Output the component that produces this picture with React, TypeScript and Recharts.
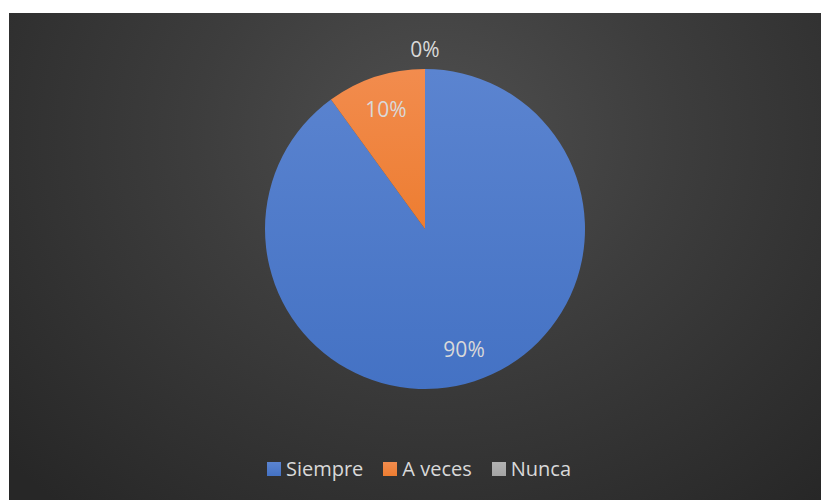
import { PieChart, Pie, Cell, Legend } from 'recharts'

const categories = ['Siempre', 'A veces', 'Nunca']
const percents = [90, 10, 0]
const colors = ['#4472c4', '#ed7d31', '#a5a5a5']
const lightColors = ['#5b84d0', '#f28c4e', '#b2b2b2']

const data = categories.map((name, i) => ({ name, value: percents[i] }))

const RADIAN = Math.PI / 180
const FONT = "'Open Sans', Lato, sans-serif"

// etiquetas dentro del sector, o fuera si el sector está vacío
const renderLabel = (props: any) => {
  const { cx, cy, midAngle, outerRadius, value } = props
  const r = value === 0 ? outerRadius + 20 : outerRadius * 0.79
  const x = cx + r * Math.cos(-midAngle * RADIAN)
  const y = cy + r * Math.sin(-midAngle * RADIAN)
  return (
    <text x={x} y={y} fill="#d9d9d9" fontSize={21} fontFamily={FONT} textAnchor="middle" dominantBaseline="central">
      {value}%
    </text>
  )
}

const renderLegend = () => (
  <div style={{ display: 'flex', justifyContent: 'center', gap: 20, fontFamily: FONT, fontSize: 20, color: '#d9d9d9' }}>
    {categories.map((name, i) => (
      <div key={name} style={{ display: 'flex', alignItems: 'center', gap: 5 }}>
        <span style={{ width: 14, height: 14, display: 'inline-block', background: `linear-gradient(${lightColors[i]}, ${colors[i]})` }} />
        <span>{name}</span>
      </div>
    ))}
  </div>
)

export default function App() {
  return (
    <div
      style={{
        marginLeft: 1,
        marginTop: 5,
        width: 820,
        height: 487,
        background: 'radial-gradient(ellipse at 52% 25%, #4f4f4f 0%, #3d3d3d 40%, #272727 95%)',
      }}
    >
      <PieChart width={820} height={487}>
        <defs>
          {colors.map((c, i) => (
            <linearGradient key={i} id={`grad${i}`} x1="0" y1="0" x2="0" y2="1">
              <stop offset="0%" stopColor={lightColors[i]} />
              <stop offset="100%" stopColor={c} />
            </linearGradient>
          ))}
        </defs>
        <Pie
          data={data}
          dataKey="value"
          nameKey="name"
          cx={411}
          cy={211}
          outerRadius={160}
          startAngle={90}
          endAngle={-270}
          stroke="none"
          label={renderLabel}
          labelLine={false}
          isAnimationActive={false}
        >
          {data.map((d, i) => (
            <Cell key={d.name} fill={`url(#grad${i})`} />
          ))}
        </Pie>
        <Legend verticalAlign="bottom" content={renderLegend} wrapperStyle={{ bottom: 18, left: 0, width: 820 }} />
      </PieChart>
    </div>
  )
}
